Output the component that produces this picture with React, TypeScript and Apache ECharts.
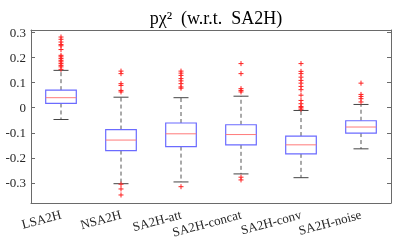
import React, { useEffect, useRef } from 'react';
import * as echarts from 'echarts';

const categories = ['LSA2H', 'NSA2H', 'SA2H-att', 'SA2H-concat', 'SA2H-conv', 'SA2H-noise'];
const lowerWhisker = [-0.047, -0.303, -0.296, -0.264, -0.279, -0.164];
const q1 = [0.017, -0.171, -0.155, -0.148, -0.184, -0.101];
const median = [0.040, -0.129, -0.104, -0.107, -0.148, -0.077];
const q3 = [0.070, -0.087, -0.061, -0.068, -0.113, -0.052];
const upperWhisker = [0.149, 0.042, 0.040, 0.046, -0.011, 0.013];

const outliersLSA2H = [0.282, 0.273, 0.262, 0.252, 0.247, 0.232, 0.209, 0.203, 0.196, 0.189, 0.183, 0.176, 0.169, 0.163, 0.153];
const outliersNSA2H = [0.146, 0.136, 0.096, 0.089, 0.069, 0.063, -0.305, -0.324, -0.348];
const outliersAtt = [0.146, 0.138, 0.129, 0.116, 0.107, 0.096, 0.083, 0.078, -0.315];
const outliersConcat = [0.176, 0.136, 0.076, 0.069, 0.063, -0.277, -0.288];
const outliersConv = [0.176, 0.145, 0.136, 0.122, 0.109, 0.098, 0.085, 0.072, 0.05, 0.029, 0.016, 0.005, 0.0, -0.006];
const outliersNoise = [0.098, 0.053, 0.045, 0.036, 0.023];

const yTicks = [-0.3, -0.2, -0.1, 0, 0.1, 0.2, 0.3];
const yTickLabels = ['-0.3', '-0.2', '-0.1', '0', '0.1', '0.2', '0.3'];

const titleText = 'pχ²  (w.r.t.  SA2H)';
const FONT = 'Liberation Serif';

export default function App() {
  const ref = useRef<HTMLDivElement>(null);
  useEffect(() => {
    if (!ref.current) return;
    const chart = echarts.init(ref.current, undefined, { renderer: 'svg' });
    const boxData = categories.map((_, i) => [i, lowerWhisker[i], q1[i], median[i], q3[i], upperWhisker[i]]);
    const allOut = [outliersLSA2H, outliersNSA2H, outliersAtt, outliersConcat, outliersConv, outliersNoise];
    const outData: number[][] = [];
    allOut.forEach((arr, i) => arr.forEach((v) => outData.push([i, v])));

    const axisColor = '#6a6a6a';
    const labelColor = '#262626';

    chart.setOption({
      animation: false,
      title: {
        text: titleText,
        left: 211,
        top: 4,
        textAlign: 'center',
        textStyle: { fontFamily: FONT, fontSize: 18, fontWeight: 'normal', color: '#000' },
      },
      grid: { left: 31, right: 8, top: 30, bottom: 39 },
      xAxis: [
        {
          type: 'category',
          data: categories,
          position: 'bottom',
          axisLine: { onZero: false, lineStyle: { color: axisColor, width: 1 } },
          axisTick: { alignWithLabel: true, inside: true, length: 4, lineStyle: { color: axisColor } },
          axisLabel: { rotate: 15, margin: 11, fontFamily: FONT, fontSize: 13, color: labelColor, interval: 0 },
          splitLine: { show: false },
        },
        {
          type: 'category',
          data: categories,
          position: 'top',
          axisLine: { onZero: false, lineStyle: { color: axisColor, width: 1 } },
          axisTick: { alignWithLabel: true, inside: true, length: 4, lineStyle: { color: axisColor } },
          axisLabel: { show: false },
          splitLine: { show: false },
        },
      ],
      yAxis: [
        {
          type: 'value',
          min: -0.38,
          max: 0.31,
          position: 'left',
          axisLine: { show: true, onZero: false, lineStyle: { color: axisColor, width: 1 } },
          axisTick: { show: true, inside: true, length: 4, customValues: yTicks, lineStyle: { color: axisColor } },
          axisLabel: {
            customValues: yTicks,
            margin: 5,
            fontFamily: FONT,
            fontSize: 13,
            color: labelColor,
            formatter: (v: number) => {
              const idx = yTicks.findIndex((t) => Math.abs(t - v) < 1e-9);
              return idx >= 0 ? yTickLabels[idx] : '';
            },
          },
          splitLine: { show: false },
        },
        {
          type: 'value',
          min: -0.38,
          max: 0.31,
          position: 'right',
          axisLine: { show: true, onZero: false, lineStyle: { color: axisColor, width: 1 } },
          axisTick: { show: true, inside: true, length: 4, customValues: yTicks, lineStyle: { color: axisColor } },
          axisLabel: { show: false },
          splitLine: { show: false },
        },
      ],
      series: [
        {
          type: 'custom',
          xAxisIndex: 0,
          yAxisIndex: 0,
          data: boxData,
          renderItem: (params: any, api: any) => {
            const idx = api.value(0);
            const bw = api.size([1, 0])[0];
            const [x, yLW] = api.coord([idx, api.value(1)]);
            const yQ1 = api.coord([idx, api.value(2)])[1];
            const yMed = api.coord([idx, api.value(3)])[1];
            const yQ3 = api.coord([idx, api.value(4)])[1];
            const yUW = api.coord([idx, api.value(5)])[1];
            const hw = bw * 0.255;
            const cw = bw * 0.125;
            const dash = { stroke: '#555', lineWidth: 1, lineDash: [4, 3] };
            const cap = { stroke: '#444', lineWidth: 1 };
            return {
              type: 'group',
              children: [
                { type: 'line', shape: { x1: x, y1: yQ1, x2: x, y2: yLW }, style: dash },
                { type: 'line', shape: { x1: x, y1: yQ3, x2: x, y2: yUW }, style: dash },
                { type: 'line', shape: { x1: x - cw, y1: yLW, x2: x + cw, y2: yLW }, style: cap },
                { type: 'line', shape: { x1: x - cw, y1: yUW, x2: x + cw, y2: yUW }, style: cap },
                {
                  type: 'rect',
                  shape: { x: x - hw, y: yQ3, width: hw * 2, height: yQ1 - yQ3 },
                  style: { fill: '#fff', stroke: '#6b6bff', lineWidth: 1.2 },
                },
                { type: 'line', shape: { x1: x - hw, y1: yMed, x2: x + hw, y2: yMed }, style: { stroke: '#ff7a7a', lineWidth: 1 } },
              ],
            };
          },
        },
        {
          type: 'custom',
          xAxisIndex: 0,
          yAxisIndex: 0,
          data: outData,
          renderItem: (params: any, api: any) => {
            const [x, y] = api.coord([api.value(0), api.value(1)]);
            const s = 2.5;
            const st = { stroke: '#ff2020', lineWidth: 1 };
            return {
              type: 'group',
              children: [
                { type: 'line', shape: { x1: x - s, y1: y, x2: x + s, y2: y }, style: st },
                { type: 'line', shape: { x1: x, y1: y - s, x2: x, y2: y + s }, style: st },
              ],
            };
          },
        },
      ],
    });
    return () => chart.dispose();
  }, []);
  return <div ref={ref} style={{ position: 'fixed', left: 0, top: 0, width: 399, height: 242 }} />;
}
